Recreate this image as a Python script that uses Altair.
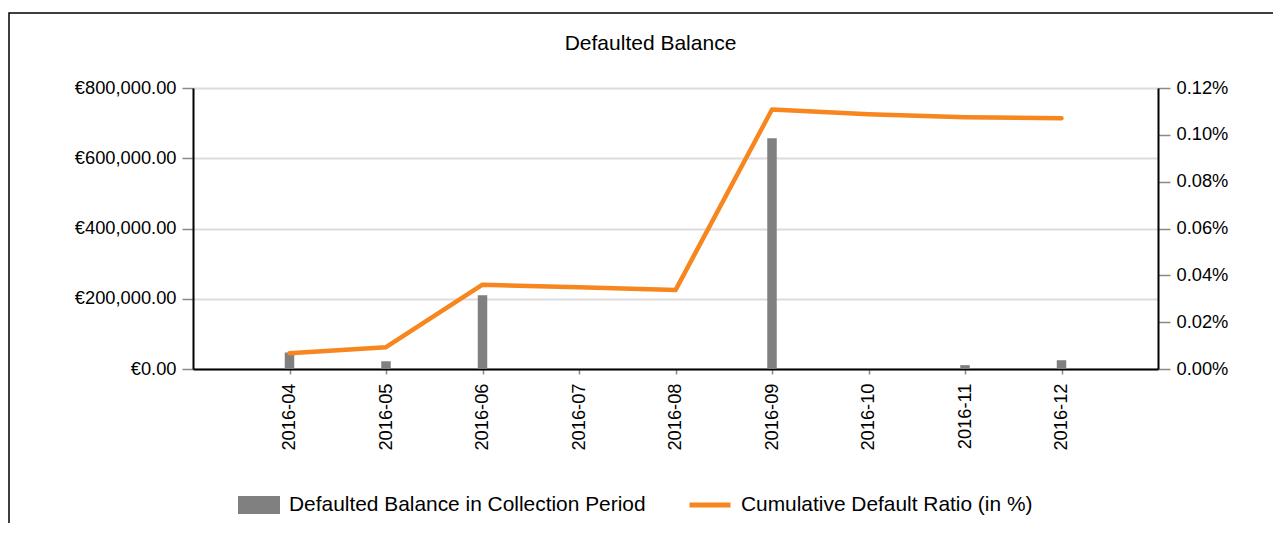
import altair as alt
import pandas as pd

months = ["2016-04", "2016-05", "2016-06", "2016-07", "2016-08",
          "2016-09", "2016-10", "2016-11", "2016-12"]
defaulted_balance = [47000, 22000, 210000, 0, 0, 657000, 0, 11000, 25000]
cum_default_ratio = [0.0067, 0.0093, 0.0360, 0.0349, 0.0337,
                     0.1108, 0.1088, 0.1075, 0.1071]

bar_name = "Defaulted Balance in Collection Period"
line_name = "Cumulative Default Ratio (in %)"
left_ticks = [0, 200000, 400000, 600000, 800000]
right_ticks = [0, 0.02, 0.04, 0.06, 0.08, 0.10, 0.12]

df = pd.DataFrame({
    "month": months,
    "balance": defaulted_balance,
    "ratio": cum_default_ratio,
    "bar_series": [bar_name] * len(months),
    "line_series": [line_name] * len(months),
})

FONT = "Liberation Sans"
AX_FS = 18.3
LEG_FS = 20.9

x_enc = alt.X(
    "month:O",
    sort=months,
    scale=alt.Scale(type="point", padding=1),
    axis=alt.Axis(
        title=None, labelAngle=270, labelFontSize=AX_FS, labelFont=FONT,
        labelColor="black", tickColor="#888888", tickSize=5, tickWidth=1.5,
        domainColor="black", domainWidth=2, labelPadding=9, grid=False,
    ),
)

bars = alt.Chart(df).mark_bar(size=9.5).encode(
    x=x_enc,
    y=alt.Y(
        "balance:Q",
        scale=alt.Scale(domain=[0, 800000], nice=False),
        axis=alt.Axis(
            title=None, values=left_ticks,
            labelExpr="'€' + format(datum.value, ',.2f')",
            labelFontSize=AX_FS, labelFont=FONT, labelColor="black",
            tickColor="#888888", tickSize=11, tickWidth=1.5, labelPadding=6,
            domainColor="black", domainWidth=2,
            grid=True, gridColor="#dcdcdc", gridWidth=2,
        ),
    ),
    fill=alt.Fill(
        "bar_series:N",
        scale=alt.Scale(domain=[bar_name], range=["#808080"]),
        legend=alt.Legend(
            title=None, orient="none", legendX=45, legendY=396,
            symbolType="M-1,-0.43H1V0.43H-1Z", symbolSize=1764,
            symbolStrokeWidth=0, labelFontSize=LEG_FS, labelFont=FONT,
            labelColor="black", labelOffset=9, padding=0,
            labelLimit=600,
        ),
    ),
)

line = alt.Chart(df).mark_line(strokeWidth=4.5, strokeCap="round",
                               strokeJoin="round").encode(
    x=x_enc,
    y=alt.Y(
        "ratio:Q",
        scale=alt.Scale(domain=[0, 0.12], nice=False),
        axis=alt.Axis(
            title=None, orient="right", values=right_ticks,
            labelExpr="format(datum.value, '.2f') + '%'",
            labelFontSize=AX_FS, labelFont=FONT, labelColor="black",
            tickColor="#888888", tickSize=12, tickWidth=1.5, labelPadding=6,
            domainColor="black", domainWidth=2, grid=False,
        ),
    ),
    stroke=alt.Stroke(
        "line_series:N",
        scale=alt.Scale(domain=[line_name], range=["#f7861f"]),
        legend=alt.Legend(
            title=None, orient="none", legendX=494, legendY=394,
            symbolType="stroke", symbolSize=1681, symbolStrokeWidth=5,
            labelFontSize=LEG_FS, labelFont=FONT, labelColor="black",
            labelOffset=8, padding=0, labelLimit=600,
        ),
    ),
)

frame_df = pd.DataFrame({"frame": [0]})
frame = alt.Chart(frame_df).mark_rect(
    fill="transparent", stroke="black", strokeWidth=1.5
).encode(
    x=alt.value(-184), x2=alt.value(1200),
    y=alt.value(-75), y2=alt.value(600),
)

chart = alt.layer(frame, bars, line).resolve_scale(
    y="independent", fill="independent", stroke="independent"
).properties(
    width=965,
    height=281,
    autosize=alt.AutoSizeParams(type="none"),
    padding={"left": 185, "top": 80, "right": 115, "bottom": 154},
    title=alt.TitleParams(
        "Defaulted Balance", fontSize=21, font=FONT, fontWeight="normal",
        color="black", anchor="middle", frame="group", dx=-25, offset=-59,
        baseline="alphabetic",
    ),
).configure_view(stroke=None).configure(background="white")

chart.save("out.html", embed_options={"renderer": "svg", "actions": False})
